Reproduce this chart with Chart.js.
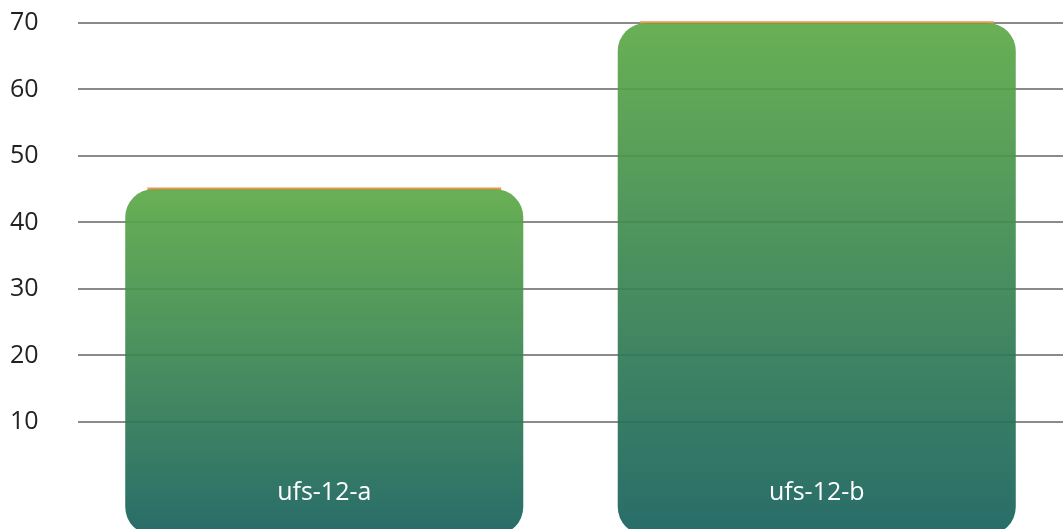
<!DOCTYPE html>
<html>
<head>
<meta charset="utf-8">
<script src="https://cdn.jsdelivr.net/npm/chart.js@4.4.1/dist/chart.umd.min.js"></script>
<style>
    html, body { margin: 0; padding: 0; background: #fff; overflow: hidden; }
    #wrap { width: 1063px; height: 550px; position: relative; }
</style>
</head>
<body>
<div id="wrap"><canvas id="ufsChart"></canvas></div>
<script>
// ------------ data ---------
const categories = ['ufs-12-a', 'ufs-12-b'];
const barValues = [45, 70];
const yTicks = [10, 20, 30, 40, 50, 60, 70];
const yMin = -7;
const yMax = 70;

// green -> teal, one gradient per bar (from its top down to the base)
function barGradient(context) {
    const chart = context.chart;
    if (!chart.chartArea || !chart.scales.y) {
        return '#4f9a5e';
    }
    const yScale = chart.scales.y;
    const top = yScale.getPixelForValue(barValues[context.dataIndex]);
    const bottom = yScale.getPixelForValue(yMin);
    const g = chart.ctx.createLinearGradient(0, top, 0, bottom);
    g.addColorStop(0, 'rgba(92, 169, 70, 0.92)');
    g.addColorStop(1, 'rgba(22, 96, 93, 0.92)');
    return g;
}

// labels written inside the bars, near the bottom
const insideLabels = {
    id: 'insideLabels',
    afterDatasetsDraw(chart) {
        const ctx = chart.ctx;
        const xScale = chart.scales.x;
        const yScale = chart.scales.y;
        ctx.save();
        ctx.fillStyle = '#ffffff';
        ctx.font = '25px "Open Sans"';
        ctx.textAlign = 'center';
        ctx.textBaseline = 'middle';
        categories.forEach((cat, i) => {
            ctx.fillText(cat, xScale.getPixelForValue(i), yScale.getPixelForValue(0) + 4);
        });
        ctx.restore();
    }
};

const ctx = document.getElementById('ufsChart').getContext('2d');
const myChart = new Chart(ctx, {
    type: 'bar',
    data: {
        labels: categories,
        datasets: [
            {
                label: 'value',
                data: barValues,
                base: yMin,
                backgroundColor: barGradient,
                borderWidth: 0,
                borderRadius: 28,
                borderSkipped: false,
                barPercentage: 0.9,
                categoryPercentage: 0.898,
                grouped: false,
                order: 0
            },
            {
                // thin orange edge peeking above each bar
                label: 'edge',
                data: barValues.map(v => [v - 0.1, v + 0.25]),
                backgroundColor: '#f0964c',
                borderWidth: 0,
                borderRadius: 0,
                borderSkipped: false,
                barPercentage: 0.80,
                categoryPercentage: 0.898,
                grouped: false,
                clip: false,
                order: 1
            }
        ]
    },
    options: {
        responsive: true,
        maintainAspectRatio: false,
        animation: false,
        layout: {
            padding: { top: 23, left: 10, right: 0, bottom: 0 }
        },
        plugins: {
            legend: { display: false },
            tooltip: { enabled: false }
        },
        scales: {
            x: {
                display: false
            },
            y: {
                min: yMin,
                max: yMax,
                afterBuildTicks: scale => {
                    scale.ticks = yTicks.map(v => ({ value: v }));
                },
                afterFit: scale => {
                    scale.width = 68;
                },
                border: { display: false },
                grid: {
                    color: '#8a8a8a',
                    lineWidth: 2,
                    drawTicks: false
                },
                ticks: {
                    crossAlign: 'far',
                    padding: 0,
                    color: '#222222',
                    font: { family: '"Open Sans"', size: 25 }
                }
            }
        }
    },
    plugins: [insideLabels]
});
</script>
</body>
</html>
